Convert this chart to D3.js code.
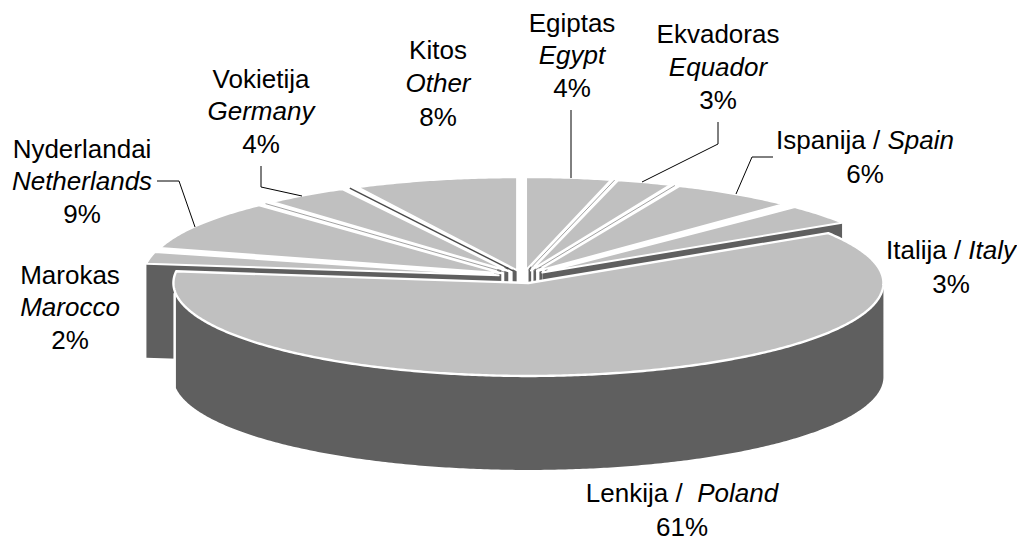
<!DOCTYPE html>
<html><head><meta charset="utf-8">
<script src="https://cdn.jsdelivr.net/npm/d3@7"></script>
<style>html,body{margin:0;padding:0;background:#fff}svg{display:block}
text{font-family:"Liberation Sans",Arial,sans-serif;font-size:26px;fill:#000;text-anchor:middle}</style>
</head><body><svg id="c" width="1017" height="541"></svg>
<script>
// data (clockwise from 12 o'clock)
const categories = ["Egiptas","Ekvadoras","Ispanija","Italija","Lenkija","Marokas","Nyderlandai","Vokietija","Kitos"];
const englishNames = ["Egypt","Equador","Spain","Italy","Poland","Marocco","Netherlands","Germany","Other"];
const shares = [3.9,2.6,5.9,3.6,61,2.2,9,4.2,7.6];
const percentLabels = ["4%","3%","6%","3%","61%","2%","9%","4%","8%"];

// layout
const cx = 523, cy = 276.6, rx = 355, ry = 93, depth = 94, explode = 0.07;
const topFill = "#c0c0c0", sideFill = "#5f5f5f";
// angular gap and seam style on the boundary after each slice
const seamGap   = [0.006,0.009,0.024,0,0,0.02,0.024,0.022,0];
const seamStyle = ["hair","hair","none","wall","wall","none","hair","line","none"];
const labelLayout = [
  {x:572,ys:[32,64,97]},{x:718,ys:[43,76,109]},{x:865,ys:[149,183],inline:true},
  {x:951,ys:[259,293],inline:true},{x:682,ys:[502,536],inline:true,gap:true},
  {x:70,ys:[284,316,349]},{x:82,ys:[158,190,223]},{x:261,ys:[88,120,153]},{x:438,ys:[59,92,126]}
];
const leaders = [
  [[571,110],[571,178]],
  [[718,122],[718,144],[642,182]],
  [[773,157],[752,157],[736,194]],
  null,null,null,
  [[157,181],[179,181],[195,227]],
  [[261,166],[261,187],[302,196]],
  null
];

const svg = d3.select("#c");
const n = shares.length;
const arcs = d3.pie().sort(null).value(d => d)(shares);
const px = (a,r=1) => rx*r*Math.sin(a), py = (a,r=1) => -ry*r*Math.cos(a);
const slices = arcs.map((a,i) => {
  const mid = (a.startAngle+a.endAngle)/2;
  return {i, mid, a0:a.startAngle+seamGap[(i+n-1)%n]/2, a1:a.endAngle-seamGap[i]/2,
          ox: cx+px(mid,explode), oy: cy+py(mid,explode)};
});
const lineGen = d3.line();
const arcPts = (s,a0,a1,dy=0) => {
  const k = Math.max(2,Math.ceil(Math.abs(a1-a0)/0.01));
  return d3.range(k+1).map(j => { const a=a0+(a1-a0)*j/k; return [s.ox+px(a), s.oy+py(a)+dy]; });
};
const rim = (s,a) => [s.ox+px(a), s.oy+py(a)];
const wall = (s,a) => { const p=rim(s,a); return [[s.ox,s.oy],p,[p[0],p[1]+depth],[s.ox,s.oy+depth]]; };
const g = svg.append("g");
const fillPath = (pts,fill,stroke="none",w=0) => g.append("path").attr("d",lineGen(pts)+"Z").attr("fill",fill).attr("stroke",stroke).attr("stroke-width",w).attr("stroke-linejoin","round");
const poly = s => [[s.ox,s.oy]].concat(arcPts(s,s.a0,s.a1));

const poland = slices[4];
const others = slices.filter(s => s !== poland);

// full cut faces that show (they sit under the tops)
slices.forEach((s,i) => {
  if (seamStyle[i] !== "wall") return;
  if (s === poland) fillPath(wall(slices[i+1], slices[i+1].a0), sideFill);
  else fillPath(wall(s, s.a1), sideFill);
});
// short dark stubs under every slice tip
others.forEach(s => {
  const right = s.mid < Math.PI;
  const x0 = s.ox + (right ? 2.5 : -4.5), w = right ? 2.6 : 4;
  fillPath([[x0,s.oy-4],[x0+w,s.oy-4],[x0+w,s.oy+12],[x0,s.oy+12]], sideFill);
});
// top faces of the back slices
others.forEach(s => fillPath(poly(s), topFill, "#fff", 2));
// seams between neighbouring tops
slices.forEach((s,i) => {
  const st = seamStyle[i]; if (st!=="hair" && st!=="line") return;
  const t = slices[(i+1)%n];
  const a = rim(s,s.a1), b = rim(t,t.a0);
  const outer = [(a[0]+b[0])/2,(a[1]+b[1])/2], inner = [(s.ox+t.ox)/2,(s.oy+t.oy)/2];
  g.append("path").attr("d",lineGen([outer,inner])).attr("fill","none")
    .attr("stroke", st==="line" ? "#4a4a4a" : "#8a8a8a").attr("stroke-width", st==="line" ? 1.4 : 0.8);
});
// Poland: rim wall with white halo on its left side, then top
const b0 = Math.max(poland.a0, Math.PI/2);
const b1 = Math.PI + Math.asin((rx-2.5)/rx);
const rimBand = arcPts(poland,b0,b1).concat(arcPts(poland,b1,b0,depth));
fillPath(rimBand, "#fff", "#fff", 5);
fillPath(rimBand, sideFill);
fillPath(poly(poland), topFill, "#fff", 2.4);

// leader lines
leaders.forEach(l => { if(l) svg.append("path").attr("d",lineGen(l)).attr("fill","none").attr("stroke","#000").attr("stroke-width",1); });

// labels
categories.forEach((c,i) => {
  const L = labelLayout[i], t = svg.append("g");
  if (L.inline) {
    const tx = t.append("text").attr("x",L.x).attr("y",L.ys[0]).style("white-space","pre");
    tx.append("tspan").text(c+" / "+(L.gap?" ":""));
    tx.append("tspan").attr("font-style","italic").text(englishNames[i]);
    t.append("text").attr("x",L.x).attr("y",L.ys[1]).text(percentLabels[i]);
  } else {
    t.append("text").attr("x",L.x).attr("y",L.ys[0]).text(c);
    t.append("text").attr("x",L.x).attr("y",L.ys[1]).attr("font-style","italic").text(englishNames[i]);
    t.append("text").attr("x",L.x).attr("y",L.ys[2]).text(percentLabels[i]);
  }
});
</script></body></html>
